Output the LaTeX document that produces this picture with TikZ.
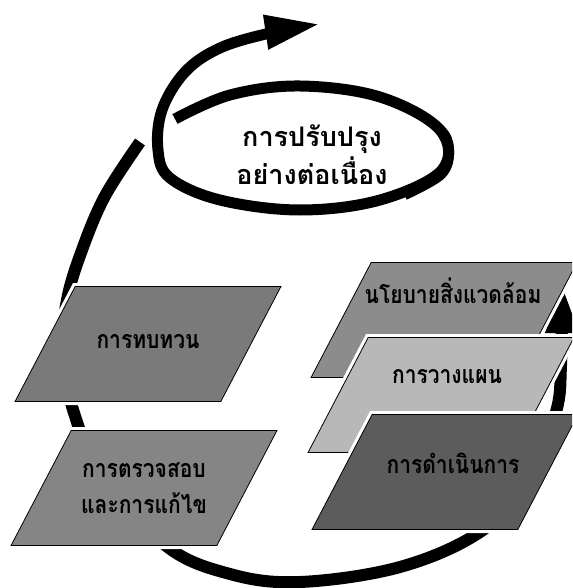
\documentclass[tikz,border=0pt]{standalone}
\usepackage{fontspec}
\newfontfamily\thaifont[Script=Thai]{Loma}
\newfontfamily\thaibox[Script=Thai,FakeStretch=0.84]{Loma}
\usetikzlibrary{arrows.meta,shapes.geometric}

\begin{document}
\begin{tikzpicture}[x=1pt,y=-1pt,
  para/.style={trapezium,trapezium left angle=61,trapezium right angle=119,
    trapezium stretches=true,minimum width=266pt,minimum height=115pt,inner sep=0pt,
    draw=black,line width=0.8pt,preaction={draw=white,line width=7pt}},
  boxtext/.style={font=\thaibox\bfseries\fontsize{25}{36}\selectfont,align=center,inner sep=1pt},
  looptext/.style={font=\thaifont\bfseries\fontsize{27}{38}\selectfont,align=center,inner sep=1pt},
  cyclearc/.style={line width=12pt,black}]
\clip (0,0) rectangle (572,588);
\fill[white] (0,0) rectangle (572,588);
\draw[cyclearc,-{Triangle[length=50pt,width=30pt]}] plot[smooth,tension=0.6] coordinates
  {(140,142) (105,196) (82,250) (67,300) (62,355) (75,416) (100,470) (165,545)
   (230,574) (300,582) (400,567) (480,532) (530,480) (556,412) (561,365) (562,283)};
\node[para,fill=black!52] (review) at (148,344) {\phantom{M}};
\node[boxtext] (review-t) at ([yshift=2pt]review.center) {การทบทวน};
\node[para,fill=black!48] (check) at (144,488) {\phantom{M}};
\node[boxtext] (check-t) at (check.center) {การตรวจสอบ\\และการแก้ไข};
\node[para,fill=black!45] (policy) at (444,320) {\phantom{M}};
\node[boxtext] (policy-t) at ([xshift=9pt,yshift=29pt]policy.center) {นโยบายสิ่งแวดล้อม};
\node[para,fill=black!28] (plan) at (441,395) {\phantom{M}};
\node[boxtext] (plan-t) at ([xshift=6pt,yshift=18pt]plan.center) {การวางแผน};
\node[para,fill=black!64] (impl) at (445,472) {\phantom{M}};
\node[boxtext] (impl-t) at ([xshift=8pt,yshift=9pt]impl.center) {การดำเนินการ};
\draw[line width=11pt,black,-{Triangle[length=55pt,width=32pt]}] plot[smooth,tension=0.6] coordinates
  {(175,119) (230,95) (300,86) (380,97) (440,130) (442,170) (380,200) (300,210)
   (220,200) (170,178) (158,150) (162,110) (185,72) (220,48) (270,33) (320,24)};
\draw[line width=8pt,black] plot[smooth,tension=0.6] coordinates
  {(400,104) (440,128) (450,150) (442,175) (405,196)};
\node[looptext] (improve) at (312,155) {การปรับปรุง\\อย่างต่อเนื่อง};
\end{tikzpicture}
\end{document}
